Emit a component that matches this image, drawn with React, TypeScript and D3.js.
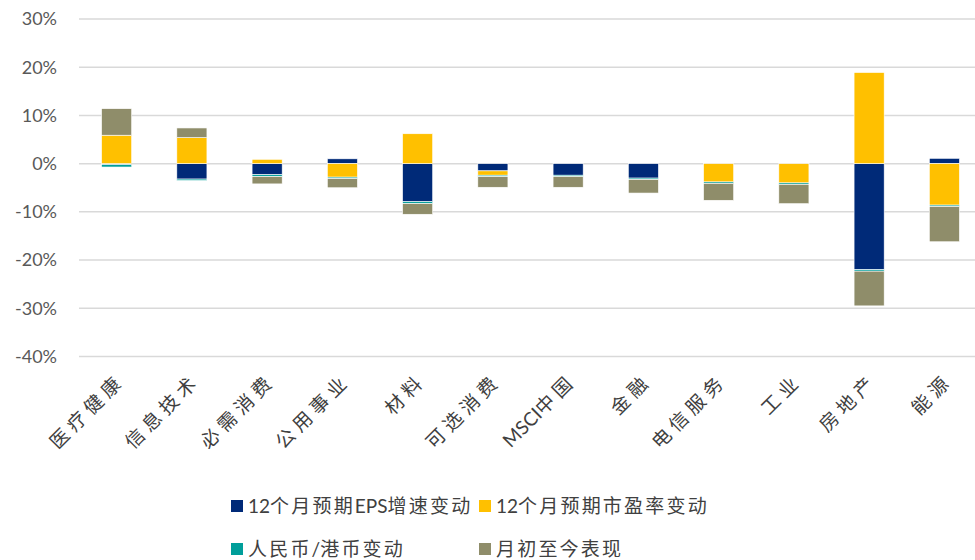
import { useEffect, useRef } from 'react';
import * as d3 from 'd3';

const categories = ['医疗健康', '信息技术', '必需消费', '公用事业', '材料', '可选消费', 'MSCI中国', '金融', '电信服务', '工业', '房地产', '能源'];
const epsChange = [-0.2, -3.2, -2.3, 1.0, -7.9, -1.5, -2.4, -3.0, 0, 0, -22.0, 1.1];
const peChange = [5.9, 5.4, 0.9, -2.8, 6.2, -0.9, 0, 0, -3.8, -4.0, 18.9, -8.6];
const fxChange = [-0.5, -0.3, -0.4, -0.3, -0.4, -0.3, -0.3, -0.3, -0.3, -0.3, -0.3, -0.3];
const ytdPerf = [5.5, 2.0, -1.5, -1.9, -2.2, -2.2, -2.2, -2.8, -3.5, -4.0, -7.2, -7.3];
const yTicks = [30, 20, 10, 0, -10, -20, -30, -40];

const seriesNames = ['12个月预期EPS增速变动', '12个月预期市盈率变动', '人民币/港币变动', '月初至今表现'];
const seriesColors = ['#002A78', '#FFC000', '#009E9A', '#8F8D6A'];

const FONT = 'Lato, "Noto Sans CJK SC", sans-serif';

// CJK runs get extra spacing, latin runs don't (like the source's rendering)
function addSpacedText(sel: any, str: string, spacing: number) {
  const runs = str.match(/[\u3000-\u9fff\uff00-\uffef]+|[^\u3000-\u9fff\uff00-\uffef]+/g) || [];
  runs.forEach((r: string) => {
    const cjk = /[\u3000-\u9fff]/.test(r);
    sel.append('tspan').attr('letter-spacing', cjk ? spacing : 0).text(r);
  });
}

export default function App() {
  const svgRef = useRef<SVGSVGElement>(null);

  useEffect(() => {
    const svg = d3.select(svgRef.current);
    svg.selectAll('*').remove();

    const series = [epsChange, peChange, fxChange, ytdPerf];
    const x = d3.scaleBand().domain(categories).range([79, 982]).paddingInner(0.6).paddingOuter(0.3);
    const y = d3.scaleLinear().domain([-40, 30]).range([356.5, 19]);

    // grid
    svg.append('g').selectAll('line').data(yTicks).enter().append('line')
      .attr('x1', 79).attr('x2', 975)
      .attr('y1', d => y(d)).attr('y2', d => y(d))
      .attr('stroke', '#d9d9d9').attr('stroke-width', 1.5);

    svg.append('g').selectAll('text').data(yTicks).enter().append('text')
      .attr('x', 57).attr('y', d => y(d)).attr('dy', '0.35em')
      .attr('text-anchor', 'end')
      .attr('font-family', FONT).attr('font-size', 18).attr('fill', '#595959')
      .text(d => `${d}%`);

    // stacked bars, positive and negative stacks separately
    const bars = svg.append('g');
    categories.forEach((cat, i) => {
      let pos = 0;
      let neg = 0;
      series.forEach((vals, s) => {
        const v = vals[i];
        if (!v) return;
        let y0, y1;
        if (v > 0) { y0 = pos; y1 = pos + v; pos = y1; } else { y0 = neg; y1 = neg + v; neg = y1; }
        bars.append('rect')
          .attr('x', x(cat)!)
          .attr('width', x.bandwidth())
          .attr('y', y(Math.max(y0, y1)))
          .attr('height', Math.abs(y(y0) - y(y1)))
          .attr('fill', seriesColors[s])
          .attr('stroke', '#fff').attr('stroke-width', 0.6);
      });
    });

    // x labels
    svg.append('g').selectAll('text').data(categories).enter().append('text')
      .attr('transform', d => `translate(${x(d)! + x.bandwidth() / 2 + 9},${382}) rotate(-45)`)
      .attr('text-anchor', 'end')
      .attr('font-family', FONT).attr('font-size', 19).attr('fill', '#404040')
      .each(function (d) { addSpacedText(d3.select(this), d, 5); });

    // legend
    const legendPos = [[231, 506], [479, 506], [231, 549], [479, 549]];
    const legend = svg.append('g');
    seriesNames.forEach((name, i) => {
      const [lx, ly] = legendPos[i];
      legend.append('rect').attr('x', lx).attr('y', ly - 6).attr('width', 12).attr('height', 12).attr('fill', seriesColors[i]);
      const t = legend.append('text').attr('x', lx + 17).attr('y', ly).attr('dy', '0.35em')
        .attr('font-family', FONT).attr('font-size', 19).attr('fill', '#404040');
      addSpacedText(t, name, 2.2);
    });
  }, []);

  return (
    <svg ref={svgRef} width={975} height={560}
      style={{ position: 'absolute', left: 0, top: 0, background: '#fff' }} />
  );
}
